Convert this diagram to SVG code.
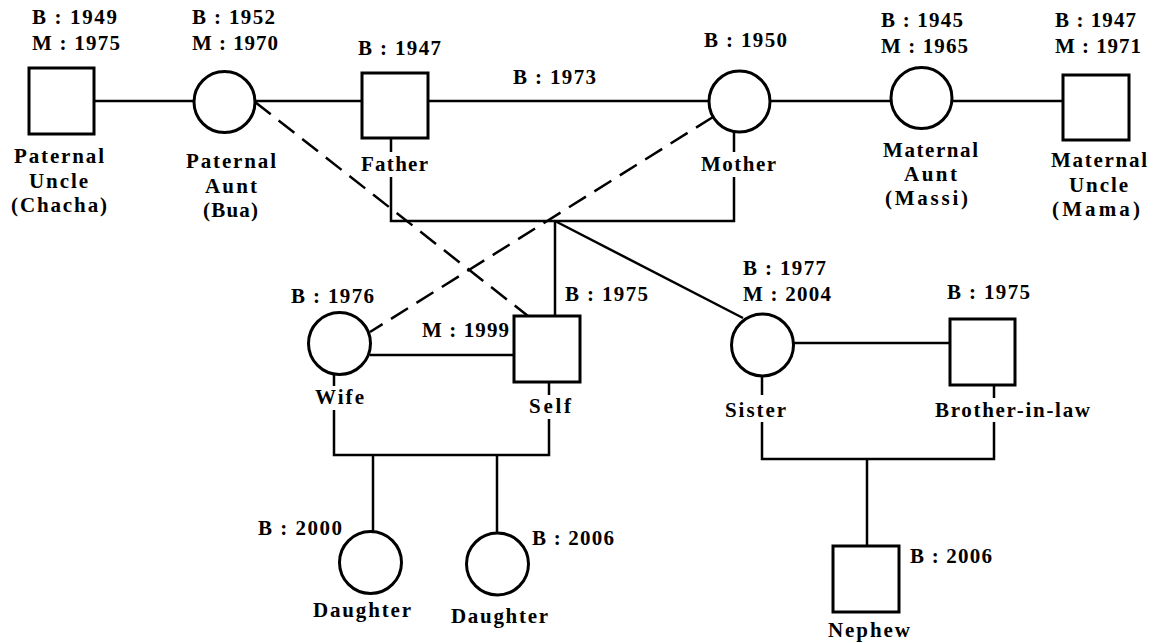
<svg xmlns="http://www.w3.org/2000/svg" width="1164" height="643" viewBox="0 0 1164 643">
<style>
  .bg{fill:#fff}
  .shape{fill:#fff;stroke:#000;stroke-width:3}
  .ln{fill:none;stroke:#000;stroke-width:2.5}
  .dash{fill:none;stroke:#000;stroke-width:2.5;stroke-dasharray:20 10}
  text{font-family:"Liberation Serif","Times New Roman",serif;font-weight:bold;font-size:21px;fill:#000}
</style>
<rect class="bg" x="0" y="0" width="1164" height="643"/>
<g id="connectors">
  <line class="ln" x1="94" y1="101" x2="194" y2="101"/>
  <line class="ln" x1="255" y1="101" x2="362" y2="101"/>
  <line class="ln" x1="428" y1="101" x2="709" y2="101"/>
  <line class="ln" x1="770" y1="101" x2="891" y2="101"/>
  <line class="ln" x1="952" y1="101" x2="1063" y2="101"/>
  <path class="ln" d="M391 138 V152 M391 177 V221 H734 V177 M734 152 V133"/>
  <line class="ln" x1="555" y1="221" x2="555" y2="316"/>
  <line class="ln" x1="555" y1="221" x2="743" y2="318"/>
  <line class="dash" x1="255" y1="102" x2="528" y2="316"/>
  <line class="dash" x1="713" y1="117" x2="370" y2="332"/>
  <line class="ln" x1="370" y1="355" x2="514" y2="355"/>
  <path class="ln" d="M334 375 V386 M334 410 V455 H549 V419 M549 395 V382"/>
  <line class="ln" x1="373" y1="455" x2="373" y2="531"/>
  <line class="ln" x1="497" y1="455" x2="497" y2="532"/>
  <line class="ln" x1="793" y1="343" x2="950" y2="343"/>
  <path class="ln" d="M762 377 V395 M762 422 V459 H994 V422 M994 398 V385"/>
  <line class="ln" x1="867" y1="459" x2="867" y2="546"/>
  <text x="513" y="84" textLength="83" lengthAdjust="spacing">B : 1973</text>
  <text x="422" y="337" textLength="87" lengthAdjust="spacing">M : 1999</text>
</g>
<g id="chacha">
  <rect class="shape" x="29" y="68" width="65" height="66"/>
  <text x="32" y="24" textLength="85" lengthAdjust="spacing">B : 1949</text>
  <text x="32" y="50" textLength="88" lengthAdjust="spacing">M : 1975</text>
  <text x="14" y="163" textLength="90" lengthAdjust="spacing">Paternal</text>
  <text x="29" y="188" textLength="59" lengthAdjust="spacing">Uncle</text>
  <text x="11" y="212" textLength="96" lengthAdjust="spacing">(Chacha)</text>
</g>
<g id="bua">
  <circle class="shape" cx="224.5" cy="102" r="30.5"/>
  <text x="192" y="24" textLength="83" lengthAdjust="spacing">B : 1952</text>
  <text x="192" y="50" textLength="86" lengthAdjust="spacing">M : 1970</text>
  <text x="186" y="168" textLength="90" lengthAdjust="spacing">Paternal</text>
  <text x="205" y="193" textLength="52" lengthAdjust="spacing">Aunt</text>
  <text x="203" y="217" textLength="55" lengthAdjust="spacing">(Bua)</text>
</g>
<g id="father">
  <rect class="shape" x="362" y="73" width="66" height="65"/>
  <text x="358" y="55" textLength="83" lengthAdjust="spacing">B : 1947</text>
  <text x="361" y="171" textLength="67" lengthAdjust="spacing">Father</text>
</g>
<g id="mother">
  <circle class="shape" cx="739.5" cy="101.5" r="30.5"/>
  <text x="704" y="47" textLength="83" lengthAdjust="spacing">B : 1950</text>
  <text x="701" y="171" textLength="75" lengthAdjust="spacing">Mother</text>
</g>
<g id="massi">
  <circle class="shape" cx="921.5" cy="98" r="30.5"/>
  <text x="881" y="27" textLength="82" lengthAdjust="spacing">B : 1945</text>
  <text x="881" y="53" textLength="87" lengthAdjust="spacing">M : 1965</text>
  <text x="883" y="157" textLength="95" lengthAdjust="spacing">Maternal</text>
  <text x="904" y="181" textLength="53" lengthAdjust="spacing">Aunt</text>
  <text x="885" y="205" textLength="83" lengthAdjust="spacing">(Massi)</text>
</g>
<g id="mama">
  <rect class="shape" x="1063" y="75" width="66" height="65"/>
  <text x="1055" y="27" textLength="81" lengthAdjust="spacing">B : 1947</text>
  <text x="1055" y="53" textLength="86" lengthAdjust="spacing">M : 1971</text>
  <text x="1051" y="167" textLength="96" lengthAdjust="spacing">Maternal</text>
  <text x="1069" y="192" textLength="59" lengthAdjust="spacing">Uncle</text>
  <text x="1052" y="216" textLength="88" lengthAdjust="spacing">(Mama)</text>
</g>
<g id="wife">
  <circle class="shape" cx="339.5" cy="343.5" r="31"/>
  <text x="291" y="303" textLength="83" lengthAdjust="spacing">B : 1976</text>
  <text x="315" y="404" textLength="49" lengthAdjust="spacing">Wife</text>
</g>
<g id="self">
  <rect class="shape" x="514" y="316" width="66" height="66"/>
  <text x="565" y="301" textLength="83" lengthAdjust="spacing">B : 1975</text>
  <text x="529" y="413" textLength="42" lengthAdjust="spacing">Self</text>
</g>
<g id="sister">
  <circle class="shape" cx="762.5" cy="345" r="31"/>
  <text x="743" y="275" textLength="83" lengthAdjust="spacing">B : 1977</text>
  <text x="743" y="301" textLength="88" lengthAdjust="spacing">M : 2004</text>
  <text x="725" y="417" textLength="61" lengthAdjust="spacing">Sister</text>
</g>
<g id="brother-in-law">
  <rect class="shape" x="950" y="319" width="65" height="66"/>
  <text x="947" y="299" textLength="83" lengthAdjust="spacing">B : 1975</text>
  <text x="935" y="417" textLength="155" lengthAdjust="spacing">Brother-in-law</text>
</g>
<g id="daughter1">
  <circle class="shape" cx="370.5" cy="562.5" r="31"/>
  <text x="258" y="535" textLength="84" lengthAdjust="spacing">B : 2000</text>
  <text x="313" y="617" textLength="98" lengthAdjust="spacing">Daughter</text>
</g>
<g id="daughter2">
  <circle class="shape" cx="497.5" cy="564" r="31"/>
  <text x="532" y="545" textLength="82" lengthAdjust="spacing">B : 2006</text>
  <text x="451" y="623" textLength="97" lengthAdjust="spacing">Daughter</text>
</g>
<g id="nephew">
  <rect class="shape" x="833" y="546" width="66" height="66"/>
  <text x="910" y="563" textLength="82" lengthAdjust="spacing">B : 2006</text>
  <text x="828" y="637" textLength="82" lengthAdjust="spacing">Nephew</text>
</g>
</svg>
